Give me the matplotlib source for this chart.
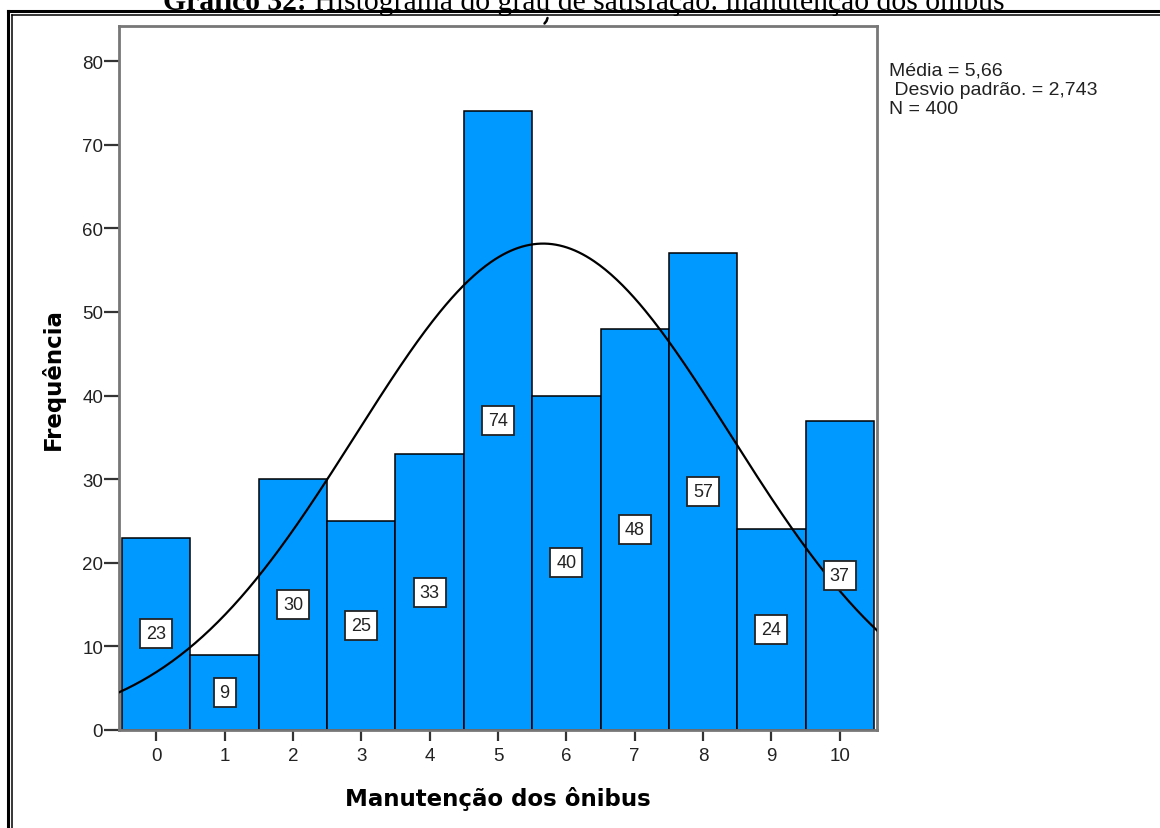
import numpy as np
import matplotlib
matplotlib.use("Agg")
import matplotlib.pyplot as plt
from matplotlib.lines import Line2D

# Frequencies of the maintenance satisfaction scores (0-10)
scores = list(range(11))
counts = [23, 9, 30, 25, 33, 74, 40, 48, 57, 24, 37]
mean_val = 5.66
std_val = 2.743
n_total = 400

title_bold = "Gráfico 32:"
title_rest = " Histograma do grau de satisfação: manutenção dos ônibus"
x_label = "Manutenção dos ônibus"
y_label = "Frequência"
stats_text = "Média = 5,66\n Desvio padrão. = 2,743\nN = 400"
y_ticks = [0, 10, 20, 30, 40, 50, 60, 70, 80]

W, H = 1160, 829
fig = plt.figure(figsize=(W / 100, H / 100), dpi=100)
fig.patch.set_facecolor("white")


def fx(px):
    return px / W


def fy(py):
    return 1 - py / H


# Double border frame around the figure (right/bottom run off the page)
for xpos, ypos, lw in [(7.5, 12, 2.2), (11.8, 16.3, 1.1)]:
    fig.add_artist(Line2D([fx(xpos), fx(xpos)], [fy(ypos), fy(840)], color="black",
                          lw=lw, transform=fig.transFigure))
    fig.add_artist(Line2D([fx(xpos), fx(1170)], [fy(ypos), fy(ypos)], color="black",
                          lw=lw, transform=fig.transFigure))

# Document caption, partly cut by the top edge
title_size = 21.3
t1 = fig.text(fx(163), fy(10), title_bold, fontsize=title_size, fontweight="bold",
              family="Liberation Serif", ha="left", va="baseline")
renderer = fig.canvas.get_renderer()
bb = t1.get_window_extent(renderer=renderer)
fig.text(bb.x1 / W, fy(10), title_rest, fontsize=title_size,
         family="Liberation Serif", ha="left", va="baseline")

# Small stroke left over from the chart's own hidden heading
fig.add_artist(Line2D([fx(547.5), fx(546.5), fx(544.5)], [fy(19), fy(22), fy(24.5)],
                      color="black", lw=1.8, solid_capstyle="round",
                      transform=fig.transFigure))

ax = fig.add_axes([fx(119), fy(731), fx(877) - fx(119), fy(27) - fy(731)])

ax.bar(scores, counts, width=1.0, color="#0099FF", edgecolor="black",
       linewidth=1.1, zorder=2)

for s, c in zip(scores, counts):
    ax.text(s, c / 2, str(c), ha="center", va="center", fontsize=13,
            family="Liberation Sans", color="#222222", zorder=4,
            bbox=dict(boxstyle="square,pad=0.33", fc="white", ec="#222222", lw=1.3))

xs = np.linspace(-0.545, 10.545, 400)
ys = n_total * np.exp(-0.5 * ((xs - mean_val) / std_val) ** 2) / (std_val * np.sqrt(2 * np.pi))
ax.plot(xs, ys, color="black", lw=1.6, zorder=3)

ax.set_xlim(-0.545, 10.545)
ax.set_ylim(0, 84.2)
ax.set_xticks(scores)
ax.set_yticks(y_ticks)
ax.tick_params(axis="both", direction="out", width=1.6, color="#333333",
               labelsize=13.5, labelcolor="#222222")
ax.tick_params(axis="y", length=10.5, pad=1)
ax.tick_params(axis="x", length=8, pad=4)
for lab in ax.get_xticklabels() + ax.get_yticklabels():
    lab.set_family("Liberation Sans")

for side in ["left", "right", "top", "bottom"]:
    ax.spines[side].set_color("#777777")
    ax.spines[side].set_linewidth(2.0)

ax.set_xlabel(x_label, fontsize=16.5, fontweight="bold", family="DejaVu Sans",
              labelpad=16)
ax.set_ylabel(y_label, fontsize=16.5, fontweight="bold", family="DejaVu Sans",
              labelpad=12)

fig.text(fx(889), fy(63), stats_text, fontsize=14, family="Liberation Sans",
         color="#222222", ha="left", va="top", linespacing=1.15)

fig.savefig("out.png", dpi=100)
